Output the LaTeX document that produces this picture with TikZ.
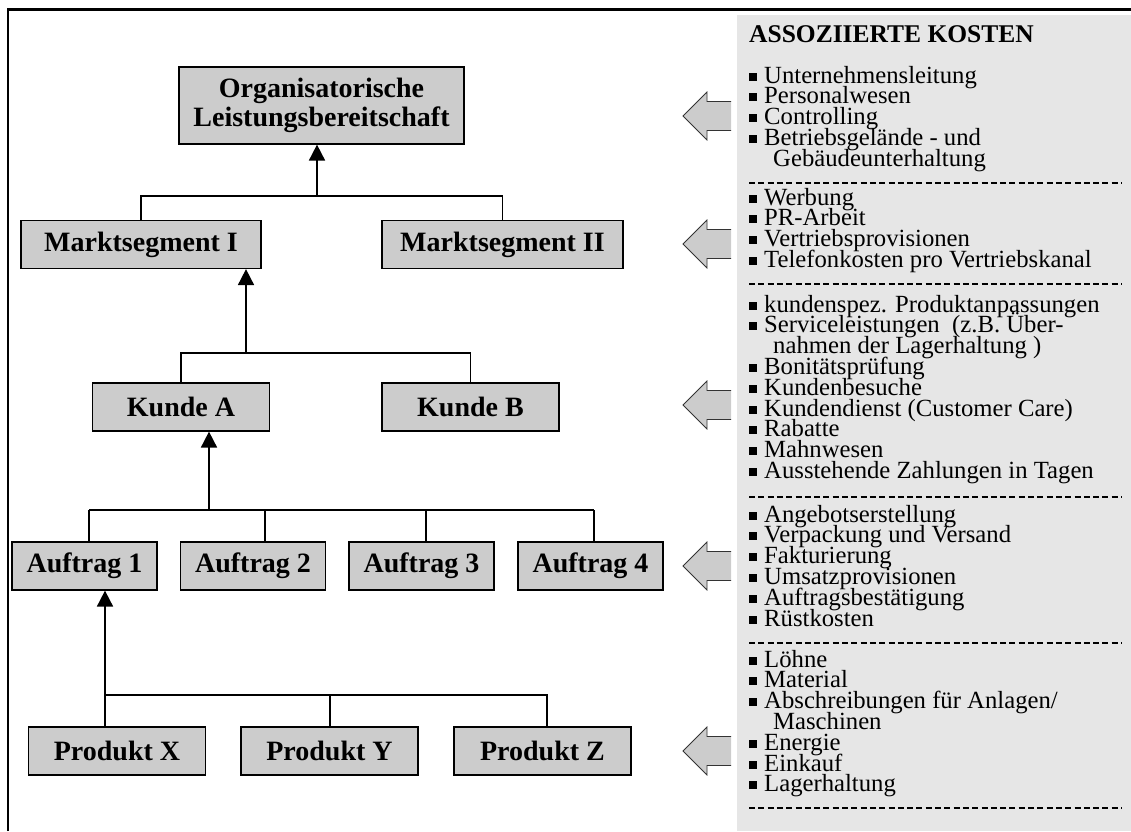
\documentclass[tikz,border=0pt]{standalone}
\usepackage{fontspec}
\setmainfont{Liberation Serif}
\usetikzlibrary{arrows.meta}
\definecolor{boxgray}{RGB}{204,204,204}
\definecolor{panelgray}{RGB}{230,230,230}
\newcommand\sqbul{\rule[2.5pt]{8pt}{8pt}\hspace{7pt}}
\newcommand\contind{\hspace{24pt}}
\begin{document}
\begin{tikzpicture}[x=1pt,y=-1pt,
  box/.style={draw,fill=boxgray,line width=1.2pt,inner sep=0pt,minimum height=48pt,
    align=center,font=\bfseries\fontsize{28}{29}\selectfont},
  tree/.style={line width=1.4pt},
  up/.style={line width=1.8pt,-{Triangle[width=16pt,length=16pt]}},
  costarrow/.style={draw=black!80,fill=boxgray,line width=0.8pt},
  item/.style={anchor=base west,inner sep=0pt,font=\fontsize{24.7}{25}\selectfont},
  sep/.style={line width=1.6pt,dash pattern=on 6pt off 3.3pt}]
\useasboundingbox (0,0) rectangle (1131,831);
% frame and cost panel
\fill[panelgray] (737,15) rectangle (1131,831);
\draw[line width=2.2pt] (8,831) -- (8,9.5) -- (1131,9.5);

% hierarchy
\node[box,minimum width=285pt,minimum height=77pt] (org) at (321.5,105.5) {Organisatorische\\Leistungsbereitschaft};
\node[box,minimum width=240pt] (m1) at (141,244.5) {Marktsegment I};
\node[box,minimum width=241pt] (m2) at (502.5,244.5) {Marktsegment II};
\node[box,minimum width=177pt] (ka) at (181,407) {Kunde A};
\node[box,minimum width=177pt] (kb) at (470.5,407) {Kunde B};
\foreach \x [count=\i] in {84.5,253,421.5,590.5}
  \node[box,minimum width=145pt] (a\i) at (\x,566) {Auftrag \i};
\node[box,minimum width=177pt] (px) at (117,751) {Produkt X};
\node[box,minimum width=177pt] (py) at (329.5,751) {Produkt Y};
\node[box,minimum width=177pt] (pz) at (542.5,751) {Produkt Z};

\coordinate (bus1) at (317,196);
\coordinate (bus2) at (246,353);
\coordinate (bus3) at (209,510);
\coordinate (bus4) at (105,695);

\draw[tree] (m1.north) |- (bus1) -| (m2.north);
\draw[up] (bus1) -- (bus1 |- org.south);
\draw[tree] (ka.north) |- (bus2) -| (kb.north);
\draw[up] (bus2) -- (bus2 |- m1.south);
\foreach \n/\dx in {a1/4.5,a2/12,a3/4.5,a4/3.5}
  \draw[tree] ([xshift=\dx]\n.north) -- ([xshift=\dx]\n.north |- bus3);
\draw[tree] ([xshift=4.5]a1.north |- bus3) -- ([xshift=3.5]a4.north |- bus3);
\draw[up] (bus3) -- (bus3 |- ka.south);
\draw[tree] (bus4) -| ([xshift=4.5]pz.north);
\draw[tree] ([xshift=0.5]py.north) -- ([xshift=0.5]py.north |- bus4);
\draw[up] (bus4 |- px.north) -- (bus4 |- a1.south);

% arrows towards the cost panel
\foreach \y in {116,244,405,566,751}
  \draw[costarrow] (731,\y-14.5) -- (707,\y-14.5) -- (707,\y-24) -- (683,\y)
    -- (707,\y+24) -- (707,\y+14.5) -- (731,\y+14.5);

% cost lists
\node[anchor=base west,inner sep=0pt,font=\bfseries\fontsize{25.5}{26}\selectfont] (title) at (749,42) {ASSOZIIERTE KOSTEN};
\foreach \txt [count=\i] in {{\sqbul Unternehmensleitung},{\sqbul Personalwesen},
    {\sqbul Controlling},{\sqbul Betriebsgelände - und},{\contind Gebäudeunterhaltung}}
  \node[item] (c1-\i) at (749,62.2+20.8*\i) {\txt};
\foreach \txt [count=\i] in {{\sqbul Werbung},{\sqbul PR-Arbeit},
    {\sqbul Vertriebsprovisionen},{\sqbul Telefonkosten pro Vertriebskanal}}
  \node[item] (c2-\i) at (749,184.2+20.8*\i) {\txt};
\foreach \txt [count=\i] in {{\sqbul kundenspez. Produktanpassungen},
    {\sqbul Serviceleistungen \ (z.B. Über-},{\contind nahmen der Lagerhaltung )},
    {\sqbul Bonitätsprüfung},{\sqbul Kundenbesuche},{\sqbul Kundendienst (Customer Care)},
    {\sqbul Rabatte},{\sqbul Mahnwesen},{\sqbul Ausstehende Zahlungen in Tagen}}
  \node[item] (c3-\i) at (749,291.2+20.8*\i) {\txt};
\foreach \txt [count=\i] in {{\sqbul Angebotserstellung},{\sqbul Verpackung und Versand},
    {\sqbul Fakturierung},{\sqbul Umsatzprovisionen},{\sqbul Auftragsbestätigung},
    {\sqbul Rüstkosten}}
  \node[item] (c4-\i) at (749,501.2+20.8*\i) {\txt};
\foreach \txt [count=\i] in {{\sqbul Löhne},{\sqbul Material},
    {\sqbul Abschreibungen für Anlagen/},{\contind Maschinen},{\sqbul Energie},
    {\sqbul Einkauf},{\sqbul Lagerhaltung}}
  \node[item] (c5-\i) at (749,646.2+20.8*\i) {\txt};
\foreach \y in {183,284,497,643,808}
  \draw[sep] (749,\y) -- (1122,\y);
\end{tikzpicture}
\end{document}
